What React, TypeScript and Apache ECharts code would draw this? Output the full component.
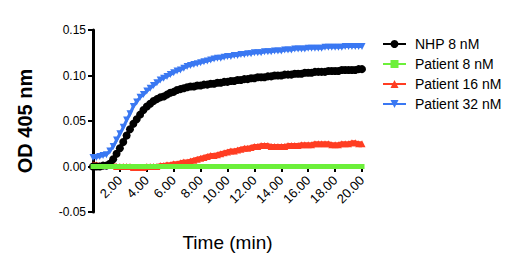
import React, { useEffect, useRef } from "react";
import * as echarts from "echarts";

const times = [
  0, 0.25, 0.5, 0.75, 1, 1.25, 1.5, 1.75, 2, 2.25, 2.5, 2.75, 3, 3.25, 3.5, 3.75,
  4, 4.25, 4.5, 4.75, 5, 5.25, 5.5, 5.75, 6, 6.25, 6.5, 6.75, 7, 7.25, 7.5, 7.75,
  8, 8.25, 8.5, 8.75, 9, 9.25, 9.5, 9.75, 10, 10.25, 10.5, 10.75, 11, 11.25, 11.5, 11.75,
  12, 12.25, 12.5, 12.75, 13, 13.25, 13.5, 13.75, 14, 14.25, 14.5, 14.75, 15, 15.25, 15.5, 15.75,
  16, 16.25, 16.5, 16.75, 17, 17.25, 17.5, 17.75, 18, 18.25, 18.5, 18.75, 19, 19.25, 19.5, 19.75, 20,
];

const nhp8 = [
  0.000, 0.000, 0.000, 0.001, 0.001, 0.003, 0.008, 0.014, 0.020, 0.027, 0.034, 0.041, 0.047, 0.052, 0.057, 0.062,
  0.066, 0.069, 0.072, 0.074, 0.076, 0.077, 0.079, 0.081, 0.082, 0.084, 0.085, 0.086, 0.087, 0.088, 0.088, 0.089,
  0.089, 0.090, 0.090, 0.091, 0.091, 0.092, 0.092, 0.093, 0.093, 0.094, 0.094, 0.095, 0.095, 0.096, 0.096, 0.097,
  0.097, 0.098, 0.098, 0.098, 0.099, 0.099, 0.100, 0.100, 0.100, 0.101, 0.101, 0.101, 0.102, 0.102, 0.102, 0.103,
  0.103, 0.103, 0.104, 0.104, 0.104, 0.104, 0.105, 0.105, 0.105, 0.105, 0.106, 0.106, 0.106, 0.106, 0.106, 0.107, 0.107,
];

const patient8 = [
  0, 0, 0, 0, 0, 0, 0, 0, 0, 0, 0, 0, 0, 0, 0, 0,
  0, 0, 0, 0, 0, 0, 0, 0, 0, 0, 0, 0, 0, 0, 0, 0,
  0, 0, 0, 0, 0, 0, 0, 0, 0, 0, 0, 0, 0, 0, 0, 0,
  0, 0, 0, 0, 0, 0, 0, 0, 0, 0, 0, 0, 0, 0, 0, 0,
  0, 0, 0, 0, 0, 0, 0, 0, 0, 0, 0, 0, 0, 0, 0, 0, 0,
];

const patient16 = [
  0.002, 0.002, 0.001, 0.001, 0.001, 0.001, 0.001, 0.000, 0.000, 0.000, 0.000, 0.000, -0.001, -0.001, -0.001, -0.001,
  0.000, 0.000, 0.000, 0.000, 0.001, 0.001, 0.002, 0.002, 0.003, 0.003, 0.004, 0.005, 0.005, 0.006, 0.007, 0.008,
  0.009, 0.010, 0.011, 0.012, 0.012, 0.013, 0.014, 0.015, 0.016, 0.017, 0.017, 0.018, 0.019, 0.020, 0.020, 0.021,
  0.022, 0.022, 0.023, 0.023, 0.023, 0.022, 0.022, 0.022, 0.022, 0.022, 0.023, 0.023, 0.023, 0.023, 0.024, 0.024,
  0.024, 0.024, 0.025, 0.025, 0.025, 0.025, 0.025, 0.024, 0.024, 0.024, 0.025, 0.025, 0.025, 0.026, 0.026, 0.025, 0.025,
];

const patient32 = [
  0.010, 0.010, 0.011, 0.012, 0.013, 0.017, 0.022, 0.029, 0.036, 0.043, 0.051, 0.058, 0.066, 0.071, 0.076, 0.079,
  0.083, 0.086, 0.089, 0.092, 0.095, 0.097, 0.099, 0.101, 0.103, 0.105, 0.106, 0.108, 0.110, 0.111, 0.112, 0.113,
  0.114, 0.115, 0.116, 0.117, 0.118, 0.119, 0.119, 0.120, 0.121, 0.121, 0.122, 0.122, 0.123, 0.123, 0.124, 0.124,
  0.125, 0.125, 0.125, 0.126, 0.126, 0.126, 0.127, 0.127, 0.127, 0.128, 0.128, 0.128, 0.129, 0.129, 0.129, 0.129,
  0.130, 0.130, 0.130, 0.130, 0.130, 0.131, 0.131, 0.131, 0.131, 0.131, 0.131, 0.132, 0.132, 0.132, 0.132, 0.132, 0.132,
];

const seriesNames = ["NHP 8 nM", "Patient 8 nM", "Patient 16 nM", "Patient 32 nM"];
const seriesColors = ["#000000", "#6CF03A", "#FF3D22", "#3A78F2"];
const seriesSymbols = ["circle", "rect", "triangle", "triangle"];
const seriesRotate = [0, 0, 0, 180];
const seriesValues = [nhp8, patient8, patient16, patient32];
const seriesSymbolSize = [8, 5, 7, 7];
const seriesLineWidth = [4, 5, 5, 3];

const FONT = "Liberation Sans, Arial, sans-serif";

export default function App() {
  const ref = useRef<HTMLDivElement>(null);
  useEffect(() => {
    if (!ref.current) return;
    const chart = echarts.init(ref.current, null, { renderer: "svg" });
    const order = [1, 2, 0, 3];
    chart.setOption({
      animation: false,
      backgroundColor: "#ffffff",
      grid: {
        left: 93,
        right: 158,
        top: 30,
        bottom: 60,
        containLabel: false,
        outerBoundsMode: "none",
      },
      legend: {
        orient: "vertical",
        left: 377,
        top: 32,
        itemGap: 6,
        itemWidth: 23,
        itemHeight: 10,
        data: seriesNames,
        textStyle: { fontFamily: FONT, fontSize: 14, color: "#000", padding: [0, 0, 0, 4] },
      },
      xAxis: {
        type: "value",
        min: 0,
        max: 20,
        interval: 2,
        offset: -46,
        name: "Time (min)",
        nameLocation: "middle",
        nameGap: 67,
        nameMoveOverlap: false,
        nameTextStyle: { fontFamily: FONT, fontSize: 19, color: "#000", verticalAlign: "top" },
        axisLine: { onZero: false, lineStyle: { color: "#000", width: 2 } },
        axisTick: { length: 6, lineStyle: { color: "#000", width: 2 } },
        axisLabel: {
          rotate: 45,
          fontFamily: FONT,
          fontSize: 13,
          color: "#000",
          margin: 12,
          hideOverlap: false,
          formatter: (v: number) => (v === 0 ? "" : v.toFixed(2)),
        },
        splitLine: { show: false },
      },
      yAxis: {
        type: "value",
        min: -0.05,
        max: 0.15,
        interval: 0.05,
        name: "OD 405 nm",
        nameLocation: "middle",
        nameGap: 58,
        nameMoveOverlap: false,
        nameTextStyle: { fontFamily: FONT, fontSize: 20, fontWeight: "bold", color: "#000" },
        axisLine: { onZero: false, lineStyle: { color: "#000", width: 3 } },
        axisTick: { length: 5, lineStyle: { color: "#000", width: 2 } },
        axisLabel: {
          fontFamily: FONT,
          fontSize: 12,
          color: "#000",
          margin: 7,
          formatter: (v: number) => v.toFixed(2),
        },
        splitLine: { show: false },
      },
      series: order.map((i) => ({
        name: seriesNames[i],
        type: "line",
        data: times.map((t, k) => [t, seriesValues[i][k]]),
        symbol: seriesSymbols[i],
        symbolRotate: seriesRotate[i],
        symbolSize: seriesSymbolSize[i],
        showAllSymbol: true,
        z: i === 1 ? 3 : 2,
        itemStyle: { color: seriesColors[i] },
        lineStyle: { color: seriesColors[i], width: seriesLineWidth[i] },
      })),
    });
    return () => chart.dispose();
  }, []);
  return (
    <div
      ref={ref}
      style={{ position: "fixed", left: 0, top: 0, width: 520, height: 272 }}
    />
  );
}
